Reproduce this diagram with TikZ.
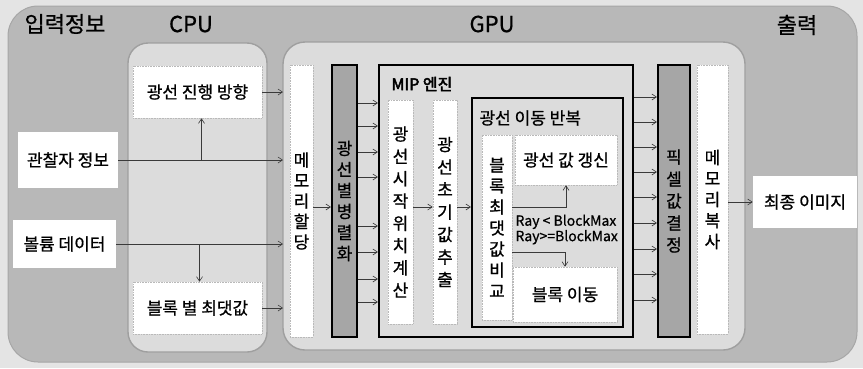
\documentclass[tikz,border=0pt]{standalone}
\usepackage{fontspec}
\setmainfont[FakeBold=0.8]{Noto Sans CJK KR}
\newfontfamily\krbold[FakeBold=3]{Noto Sans CJK KR}
\usetikzlibrary{arrows.meta}
\definecolor{bgc}{HTML}{E4E4E4}
\definecolor{outerc}{HTML}{B8B8B8}
\definecolor{innerc}{HTML}{DCDCDC}
\definecolor{darkcol}{HTML}{A6A6A6}
\definecolor{linec}{HTML}{3A3A3A}
\begin{document}
\begin{tikzpicture}[x=1pt,y=-1pt,
  region/.style={rectangle, inner sep=0pt, outer sep=0pt},
  whitebox/.style={rectangle, inner sep=0pt, fill=white, draw=gray!55, densely dotted, line width=0.6pt},
  darkbox/.style={rectangle, inner sep=0pt, fill=darkcol, draw=black, line width=2.2pt},
  framebox/.style={rectangle, inner sep=0pt, draw=black, line width=2.2pt},
  title/.style={font=\fontsize{22}{26}\selectfont},
  lbl/.style={font=\fontsize{17}{20}\selectfont},
  vt/.style={align=center, font=\fontsize{17}{#1}\selectfont},
  arr/.style={draw=linec, line width=0.6pt, -{Straight Barb[length=4.5pt,width=6pt]}},
]
\useasboundingbox (0,0) rectangle (863,368);
\fill[bgc] (0,0) rectangle (863,368);

% regions
\node[region, fill=outerc, draw=gray!70, line width=1pt, rounded corners=30pt,
      minimum width=849, minimum height=356] (outer) at (432.5,184) {};
\node[region, fill=innerc, draw=gray!75, line width=1.4pt, rounded corners=20pt,
      minimum width=139, minimum height=309] (cpu) at (197.5,197.5) {};
\node[region, fill=innerc, draw=gray!75, line width=1.4pt, rounded corners=22pt,
      minimum width=462, minimum height=308] (gpu) at (514,196) {};

% titles
\node[title] (tin) at (65,24) {입력정보};
\node[title] (tcpu) at (191,24) {CPU};
\node[title] (tgpu) at (492,24) {GPU};
\node[title] (tout) at (797,25) {출력};

% input / output boxes
\node[whitebox, draw=none, lbl, minimum width=100, minimum height=56] (obs) at (68,160) {관찰자 정보};
\node[whitebox, draw=none, lbl, minimum width=103, minimum height=48] (vol) at (64.5,244) {볼륨 데이터};
\node[whitebox, draw=none, lbl, minimum width=104, minimum height=52] (fin) at (805,202) {최종 이미지};

% CPU boxes
\node[whitebox, lbl, minimum width=129, minimum height=52] (dir) at (197.5,92) {광선 진행 방향};
\node[whitebox, lbl, minimum width=129, minimum height=52] (bmax) at (197.5,308) {블록 별 최댓값};

% GPU columns
\node[whitebox, vt=20.5, minimum width=23, minimum height=272] (mem) at (301.5,201) {메\\모\\리\\할\\당};
\node[darkbox, vt=21, minimum width=25, minimum height=272] (par) at (344.5,201) {광\\선\\별\\병\\렬\\화};
\node[framebox, minimum width=254, minimum height=272] (mip) at (506,201) {};
\node[anchor=west, font=\fontsize{16}{19}\selectfont\krbold] (miplbl) at (388,84) {MIP 엔진};
\node[whitebox, vt=22.3, minimum width=25, minimum height=224] (start) at (400.5,212) {광\\선\\시\\작\\위\\치\\계\\산};
\node[whitebox, vt=22.5, minimum width=24, minimum height=224] (init) at (445,212) {광\\선\\초\\기\\값\\추\\출};
\node[framebox, minimum width=151, minimum height=229] (loop) at (547.5,212.5) {};
\node[anchor=west, lbl] (looplbl) at (476,118) {광선 이동 반복};
\node[whitebox, vt=21, minimum width=30, minimum height=185] (cmp) at (497,227.5) {블\\록\\최\\댓\\값\\비\\교};
\node[whitebox, lbl, minimum width=102, minimum height=50] (upd) at (566,160) {광선 값 갱신};
\node[whitebox, lbl, minimum width=104, minimum height=55] (mov) at (565,294.5) {블록 이동};
\node[darkbox, vt=22, minimum width=32, minimum height=272] (pix) at (674,201) {픽\\셀\\값\\결\\정};
\node[whitebox, vt=21, minimum width=31, minimum height=269] (cpy) at (712.5,199.5) {메\\모\\리\\복\\사};

\node[anchor=west, align=left, font=\fontsize{14}{12}\selectfont] (raylbl) at (512,229.5) {Ray < BlockMax\\Ray>=BlockMax};

% connectors: inputs
\draw[arr] (obs.east) -- (obs.east -| gpu.west);
\draw[arr] ([xshift=4pt]dir.south |- obs.east) -- ([xshift=4pt]dir.south);
\draw[arr] (vol.east) -- (vol.east -| gpu.west);
\draw[arr] ([xshift=2pt]bmax.north |- vol.east) -- ([xshift=2pt]bmax.north);
\draw[arr] (dir.east) -- (dir.east -| gpu.west);
\draw[arr] (bmax.east) -- (bmax.east -| gpu.west);

% GPU internal
\draw[arr] (mem.east |- 0,207) -- (par.west |- 0,207);
\foreach \yy in {103,126,152,177,226,252,279,302}
  \draw[arr] (par.east |- 0,\yy) -- (mip.west |- 0,\yy);
\draw[arr] (start.east |- 0,207) -- (init.west |- 0,207);
\draw[arr] (init.east |- 0,207) -- (loop.west |- 0,207);
\draw[arr] (cmp.east |- 0,207) -| (upd.south);
\draw[arr] (cmp.east |- 0,252) -| (mov.north);
\foreach \yy in {97,122,147,172,197,223,249,274,300}
  \draw[arr] (mip.east |- 0,\yy) -- (pix.west |- 0,\yy);
\draw[arr] (cpy.east |- 0,202) -- (fin.west |- 0,202);
\end{tikzpicture}
\end{document}
